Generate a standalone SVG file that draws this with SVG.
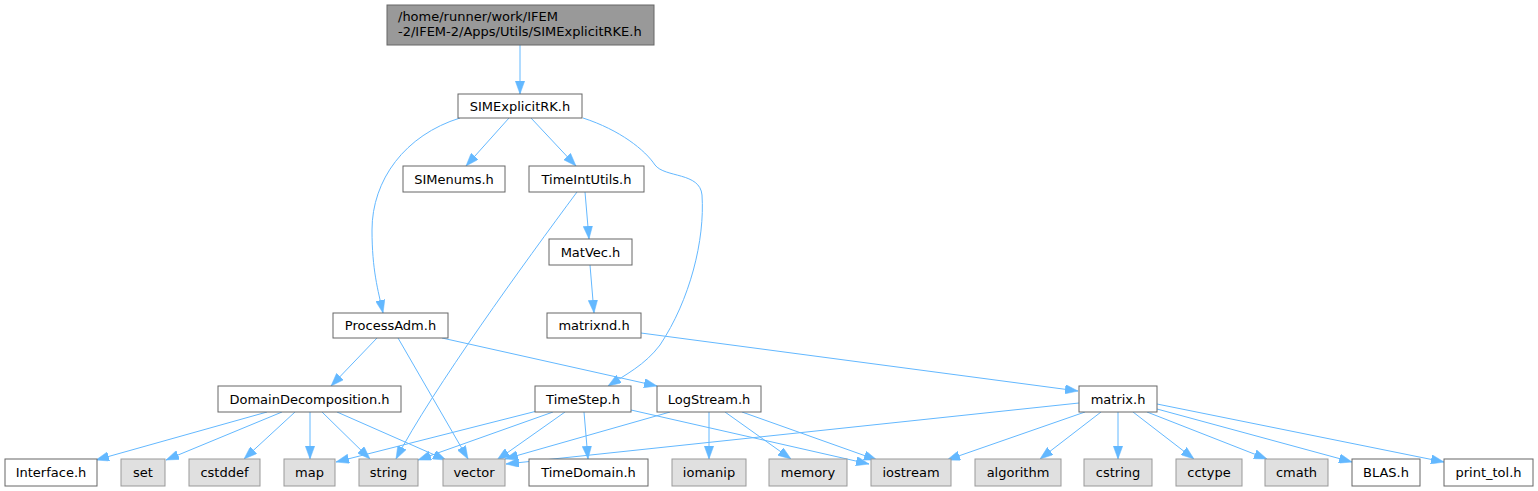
<svg xmlns="http://www.w3.org/2000/svg" width="1538" height="491" viewBox="0 0 1538 491">
<style>
.n rect{fill:#ffffff;stroke:#666666;stroke-width:1}
.g rect{fill:#e0e0e0;stroke:#999999;stroke-width:1}
.r rect{fill:#999999;stroke:#666666;stroke-width:1}
text{font-family:"DejaVu Sans","Liberation Sans",sans-serif;font-size:13px;fill:#000000}
.c{text-anchor:middle}
#edges path{fill:none;stroke:#63b8ff;stroke-width:1;marker-end:url(#a)}
</style>
<defs>
<marker id="a" viewBox="0 0 13 9.4" refX="13" refY="4.7" markerWidth="13" markerHeight="9.4" orient="auto" markerUnits="userSpaceOnUse">
<path d="M0,0 L13,4.7 L0,9.4 z" fill="#63b8ff" stroke="#63b8ff" stroke-width="0.5"/>
</marker>
</defs>
<rect width="1538" height="491" fill="#ffffff"/>
<g id="edges">
<path d="M520,45 L520,94"/>
<path d="M509,118 L466,166"/>
<path d="M531,118 L576,166"/>
<path d="M460,118 C 405,135 372,180 372,230 C 372,270 378,290 383,313"/>
<path d="M583,118 C 620,130 645,150 655,165 C 665,178 700,172 702,195 C 705,240 690,300 660,345 C 645,365 625,375 608,386"/>
<path d="M585,192 L589,239"/>
<path d="M577,192 C 525,262 432,390 396,459"/>
<path d="M590,265 L594,313"/>
<path d="M377,338 L331,386"/>
<path d="M398,338 L468,459"/>
<path d="M442,338 L657,386"/>
<path d="M641,333 L1078,391"/>
<path d="M267,412 L96,460"/>
<path d="M282,412 L166,460"/>
<path d="M295,412 L244,459"/>
<path d="M310,412 L310,459"/>
<path d="M322,412 L370,459"/>
<path d="M337,412 L446,460"/>
<path d="M537,411 L336,462"/>
<path d="M553,412 L418,460"/>
<path d="M565,412 L497,460"/>
<path d="M584,412 L588,459"/>
<path d="M631,410 L869,464"/>
<path d="M670,412 L505,459"/>
<path d="M709,412 L709,459"/>
<path d="M725,412 L791,459"/>
<path d="M742,412 L877,460"/>
<path d="M1079,403 L506,464"/>
<path d="M1085,412 L947,460"/>
<path d="M1101,412 L1040,459"/>
<path d="M1118,412 L1118,459"/>
<path d="M1133,412 L1194,459"/>
<path d="M1147,412 L1267,459"/>
<path d="M1157,409 L1352,462"/>
<path d="M1157,404 L1444,462"/>
</g>
<g id="root" class="r"><rect x="387" y="5" width="267" height="40"/><text x="398" y="21">/home/runner/work/IFEM</text><text x="398" y="36">-2/IFEM-2/Apps/Utils/SIMExplicitRKE.h</text></g>
<g id="SIMExplicitRK" class="n"><rect x="458" y="94" width="124" height="24"/><text class="c" x="520" y="110.5">SIMExplicitRK.h</text></g>
<g id="SIMenums" class="n"><rect x="403" y="166" width="102" height="26"/><text class="c" x="454" y="183.5">SIMenums.h</text></g>
<g id="TimeIntUtils" class="n"><rect x="529" y="166" width="115" height="26"/><text class="c" x="586.5" y="183.5">TimeIntUtils.h</text></g>
<g id="MatVec" class="n"><rect x="549" y="239" width="83" height="26"/><text class="c" x="590.5" y="256.5">MatVec.h</text></g>
<g id="ProcessAdm" class="n"><rect x="333" y="313" width="115" height="25"/><text class="c" x="390.5" y="330">ProcessAdm.h</text></g>
<g id="matrixnd" class="n"><rect x="547" y="313" width="94" height="25"/><text class="c" x="594" y="330">matrixnd.h</text></g>
<g id="DomainDecomposition" class="n"><rect x="218" y="386" width="183" height="26"/><text class="c" x="309.5" y="403.5">DomainDecomposition.h</text></g>
<g id="TimeStep" class="n"><rect x="535" y="386" width="96" height="26"/><text class="c" x="583" y="403.5">TimeStep.h</text></g>
<g id="LogStream" class="n"><rect x="657" y="386" width="104" height="26"/><text class="c" x="709" y="403.5">LogStream.h</text></g>
<g id="matrix" class="n"><rect x="1079" y="386" width="78" height="26"/><text class="c" x="1118" y="403.5">matrix.h</text></g>
<g id="Interface" class="n"><rect x="5" y="459" width="92" height="27"/><text class="c" x="51" y="477">Interface.h</text></g>
<g id="set" class="g"><rect x="121" y="459" width="44" height="27"/><text class="c" x="143" y="477">set</text></g>
<g id="cstddef" class="g"><rect x="189" y="459" width="71" height="27"/><text class="c" x="224.5" y="477">cstddef</text></g>
<g id="map" class="g"><rect x="284" y="459" width="51" height="27"/><text class="c" x="309.5" y="477">map</text></g>
<g id="string" class="g"><rect x="359" y="459" width="59" height="27"/><text class="c" x="388.5" y="477">string</text></g>
<g id="vector" class="g"><rect x="443" y="459" width="62" height="27"/><text class="c" x="474" y="477">vector</text></g>
<g id="TimeDomain" class="n"><rect x="529" y="459" width="119" height="27"/><text class="c" x="588.5" y="477">TimeDomain.h</text></g>
<g id="iomanip" class="g"><rect x="672" y="459" width="74" height="27"/><text class="c" x="709" y="477">iomanip</text></g>
<g id="memory" class="g"><rect x="769" y="459" width="78" height="27"/><text class="c" x="808" y="477">memory</text></g>
<g id="iostream" class="g"><rect x="871" y="459" width="80" height="27"/><text class="c" x="911" y="477">iostream</text></g>
<g id="algorithm" class="g"><rect x="975" y="459" width="86" height="27"/><text class="c" x="1018" y="477">algorithm</text></g>
<g id="cstring" class="g"><rect x="1084" y="459" width="68" height="27"/><text class="c" x="1118" y="477">cstring</text></g>
<g id="cctype" class="g"><rect x="1176" y="459" width="66" height="27"/><text class="c" x="1209" y="477">cctype</text></g>
<g id="cmath" class="g"><rect x="1265" y="459" width="63" height="27"/><text class="c" x="1296.5" y="477">cmath</text></g>
<g id="BLAS" class="n"><rect x="1352" y="459" width="68" height="27"/><text class="c" x="1386" y="477">BLAS.h</text></g>
<g id="print_tol" class="n"><rect x="1444" y="459" width="89" height="27"/><text class="c" x="1488.5" y="477">print_tol.h</text></g>
</svg>
